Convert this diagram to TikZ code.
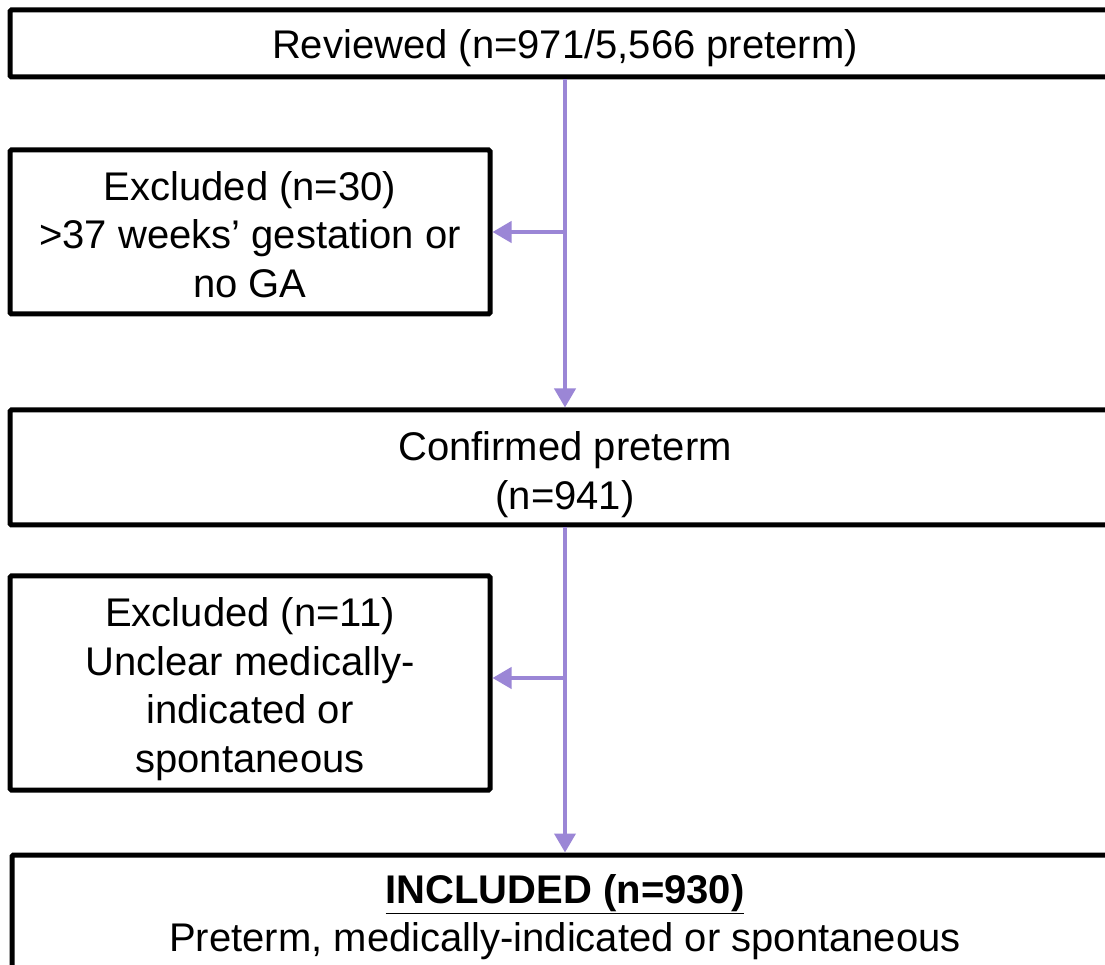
\documentclass[tikz,border=0pt]{standalone}
\usepackage{fontspec}
\setmainfont{Liberation Sans}
\usetikzlibrary{arrows.meta}
\definecolor{cflow}{HTML}{9B86D6}
\definecolor{cline}{HTML}{000000}
\newcommand{\toplift}[1]{\rule{0pt}{#1}}
\tikzset{
  stagebox/.style={draw=cline,line width=5pt,fill=white,rounded corners=1.5pt,
    align=center,inner sep=0pt,font=\fontsize{40}{48.5}\selectfont},
  flowline/.style={draw=cflow,line width=4pt,-{Triangle[length=19pt,width=21pt]}}
}
\begin{document}
\begin{tikzpicture}[x=1pt,y=1pt]
  \fill[white] (0,0) rectangle (1105,964);
  \useasboundingbox (0,0) rectangle (1105,964);
  % boxes
  \node[stagebox,minimum width=1110pt,minimum height=67pt] (rev) at (565,920.5) {\toplift{39pt}Reviewed (n=971/5,566 preterm)};
  \node[stagebox,minimum width=480pt,minimum height=164pt] (exc1) at (250,732) {\toplift{34pt}Excluded (n=30)\\>37 weeks’ gestation or\\no GA};
  \node[stagebox,minimum width=1110pt,minimum height=115pt] (conf) at (565,496.5) {\toplift{43pt}Confirmed preterm\\(n=941)};
  \node[stagebox,minimum width=480pt,minimum height=214pt] (exc2) at (250,281) {\toplift{41pt}Excluded (n=11)\\Unclear medically-\\indicated or\\spontaneous};
  \node[stagebox,minimum width=1106pt,minimum height=124pt] (incl) at (565,47) {\underline{\textbf{INCLUDED (n=930)}}\\Preterm, medically-indicated or spontaneous};
  % connectors
  \coordinate (b1) at (565,732);
  \coordinate (b2) at (565,286);
  \draw[flowline] (rev.south) -- (conf.north);
  \draw[flowline] (b1) -- (exc1.east);
  \draw[flowline] (conf.south) -- (incl.north);
  \draw[flowline] (b2) -- (b2 -| exc2.east);
\end{tikzpicture}
\end{document}
